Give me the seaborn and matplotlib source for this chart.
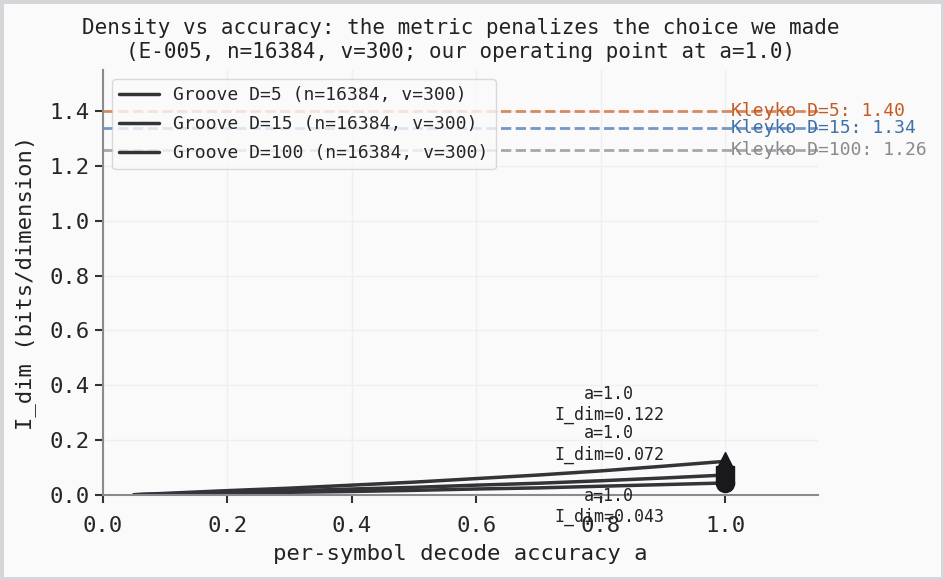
import numpy as np
import pandas as pd
import matplotlib
matplotlib.use("Agg")
import matplotlib.pyplot as plt
import seaborn as sns

# ------------------------------------------
# data
# ------------------------------------------
accuracy = [0.05, 0.1, 0.2, 0.3, 0.4, 0.5, 0.6, 0.7, 0.8, 0.9, 1.0]
idim_d5 = [0.000, 0.005, 0.015, 0.024, 0.035, 0.046, 0.059, 0.072, 0.087, 0.104, 0.122]
idim_d15 = [0.000, 0.003, 0.009, 0.014, 0.021, 0.027, 0.035, 0.042, 0.051, 0.061, 0.072]
idim_d100 = [0.000, 0.002, 0.005, 0.009, 0.012, 0.016, 0.021, 0.025, 0.031, 0.037, 0.043]
groove_labels = ["Groove D=5 (n=16384, v=300)",
                 "Groove D=15 (n=16384, v=300)",
                 "Groove D=100 (n=16384, v=300)"]
groove_markers = ["^", "s", "o"]

kleyko_names = ["Kleyko D=5", "Kleyko D=15", "Kleyko D=100"]
kleyko_values = [1.40, 1.34, 1.26]

# ------------------------------------------
# style
# ------------------------------------------
sns.set_theme(style="whitegrid")
plt.rcParams["font.family"] = ["DejaVu Sans Mono", "DejaVu Sans"]

bg = "#fafafa"
line_col = "#333338"
mark_col = "#18181d"
kleyko_line = ["#d88a5c", "#7497c4", "#a8a8ac"]
kleyko_text = ["#c65a22", "#3f70aa", "#8a8a8e"]

df = pd.DataFrame({
    "a": accuracy * 3,
    "idim": idim_d5 + idim_d15 + idim_d100,
    "series": [groove_labels[0]] * len(accuracy)
              + [groove_labels[1]] * len(accuracy)
              + [groove_labels[2]] * len(accuracy),
})

fig = plt.figure(figsize=(9.44, 5.8), dpi=100)
fig.patch.set_facecolor(bg)
fig.patch.set_edgecolor("#d6d6da")
fig.patch.set_linewidth(5)
ax = fig.add_axes([0.109, 0.147, 0.758, 0.732])
ax.set_facecolor(bg)

sns.lineplot(data=df, x="a", y="idim", hue="series", hue_order=groove_labels,
             palette=[line_col] * 3, linewidth=2.5, ax=ax)

# operating point markers + annotations
offsets = [57, 31, -24]
for vals, mk, off in zip([idim_d5, idim_d15, idim_d100], groove_markers, offsets):
    ax.plot(accuracy[-1], vals[-1], marker=mk, markersize=13, color=mark_col,
            linestyle="none", zorder=5)
    ax.annotate(f"a={accuracy[-1]:.1f}\nI_dim={vals[-1]:.3f}",
                xy=(accuracy[-1], vals[-1]), xytext=(-116, off),
                textcoords="offset pixels", ha="center", va="center",
                fontsize=12, color="#222226")

# Kleyko reference lines
for name, val, lc, tc in zip(kleyko_names, kleyko_values, kleyko_line, kleyko_text):
    ax.axhline(val, color=lc, linestyle="--", linewidth=2, zorder=1)
    ax.text(1.01, val, f"{name}: {val:.2f}", color=tc, fontsize=13,
            ha="left", va="center")

ax.set_xlim(0, 1.15)
ax.set_ylim(0, 1.55)
ax.set_xticks(np.arange(0, 1.01, 0.2))
ax.set_yticks(np.arange(0, 1.41, 0.2))
ax.tick_params(axis="both", labelsize=16, length=6, width=1.5, color="#333",
               left=True, bottom=True)
ax.tick_params(axis="x", pad=9)
ax.grid(True, color="#efeff1", linewidth=1)
for s in ["top", "right"]:
    ax.spines[s].set_visible(False)
for s in ["left", "bottom"]:
    ax.spines[s].set_color("#8a8a90")
    ax.spines[s].set_linewidth(1.5)

ax.set_xlabel("per-symbol decode accuracy a", fontsize=16, color="#222",
              labelpad=6)
ax.set_ylabel("I_dim (bits/dimension)", fontsize=16, color="#222",
              labelpad=10)
ax.set_title("Density vs accuracy: the metric penalizes the choice we made\n"
             "(E-005, n=16384, v=300; our operating point at a=1.0)",
             fontsize=15, color="#222", pad=9)

leg = ax.legend(loc="upper left", fontsize=13, frameon=True, title=None,
                borderaxespad=0.5, handlelength=2.2, labelspacing=0.6)
leg.get_frame().set_facecolor(bg)
leg.get_frame().set_edgecolor("#d0d0d4")
for h in leg.get_lines():
    h.set_linewidth(2.5)

fig.savefig("out.png", dpi=100, facecolor=bg, edgecolor=fig.patch.get_edgecolor())
